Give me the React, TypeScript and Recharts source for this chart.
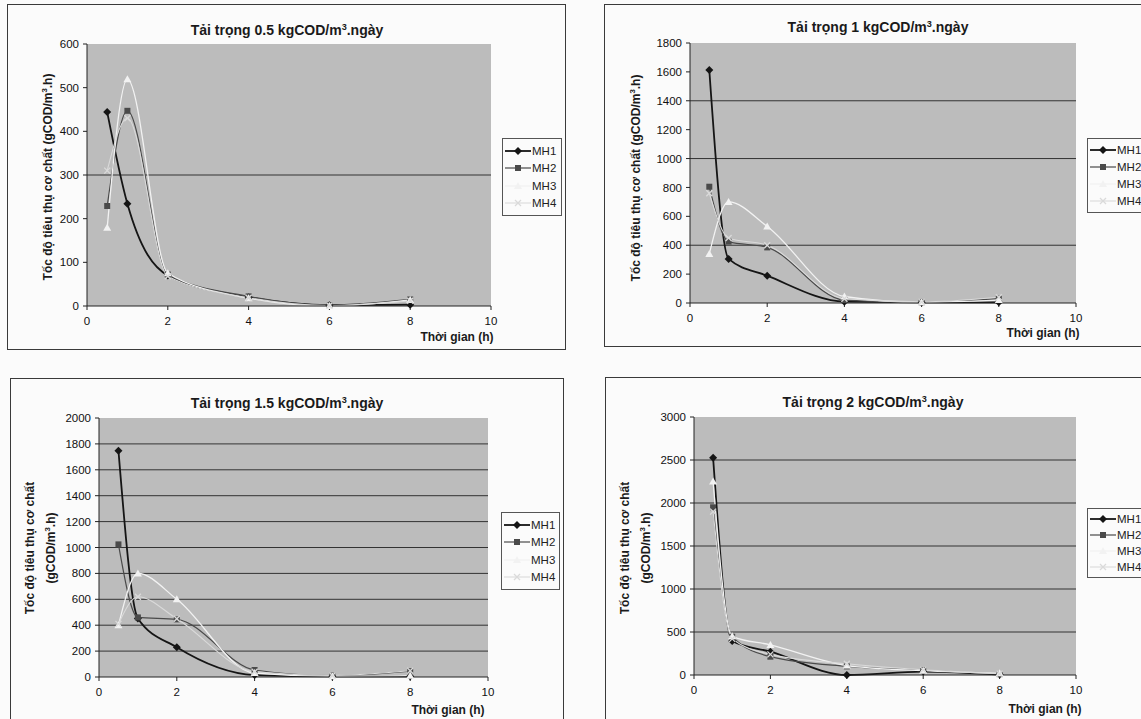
import React from "react";
import { LineChart, Line, XAxis, YAxis, CartesianGrid, ReferenceLine } from "recharts";

// sampling times (h)
const hours = [0.5, 1, 2, 4, 6, 8];
const xTicks = [0, 2, 4, 6, 8, 10];
const seriesNames = ["MH1", "MH2", "MH3", "MH4"];

// Tải trọng 0.5 kgCOD/m3.ngày
const l05MH1 = [444, 234, 70, 20, 2, 3];
const l05MH2 = [229, 447, 72, 22, 2, 15];
const l05MH3 = [179, 519, 75, 18, 0, 14];
const l05MH4 = [310, 430, 68, 19, 1, 12];
const l05Ticks = [0, 100, 200, 300, 400, 500, 600];
const l05Grid = [300];

// Tải trọng 1
const l1MH1 = [1613, 305, 189, 9, 4, 5];
const l1MH2 = [805, 425, 385, 20, 5, 30];
const l1MH3 = [340, 700, 530, 45, 5, 20];
const l1MH4 = [760, 450, 400, 30, 8, 40];
const l1Ticks = [0, 200, 400, 600, 800, 1000, 1200, 1400, 1600, 1800];
const l1Grid = [400, 1000, 1400];

// Tải trọng 1.5
const l15MH1 = [1748, 452, 229, 15, 5, 5];
const l15MH2 = [1024, 460, 445, 54, 10, 45];
const l15MH3 = [400, 800, 600, 30, 5, 10];
const l15MH4 = [410, 620, 450, 40, 12, 48];
const l15Ticks = [0, 200, 400, 600, 800, 1000, 1200, 1400, 1600, 1800, 2000];
const l15Grid = [200, 400, 600, 800, 1000, 1200, 1400, 1600, 1800];

// Tải trọng 2
const l2MH1 = [2527, 395, 271, 0, 40, 5];
const l2MH2 = [1950, 445, 213, 100, 55, 10];
const l2MH3 = [2250, 450, 350, 110, 50, 20];
const l2MH4 = [1900, 420, 240, 130, 60, 15];
const l2Ticks = [0, 500, 1000, 1500, 2000, 2500, 3000];
const l2Grid = [500, 1000, 1500, 2000, 2500];

const FONT = "'Liberation Sans', Arial, sans-serif";

const styles = [
  { color: "#151515", width: 1.8, shape: "diamond" },
  { color: "#4a4a4a", width: 1.2, shape: "square" },
  { color: "#f2f2f2", width: 1.3, shape: "triangle" },
  { color: "#dadada", width: 1.1, shape: "cross" },
];

function Marker({ shape, cx, cy, color }: any) {
  if (shape === "diamond")
    return <polygon points={`${cx},${cy - 4} ${cx + 4},${cy} ${cx},${cy + 4} ${cx - 4},${cy}`} fill={color} />;
  if (shape === "square") return <rect x={cx - 3} y={cy - 3} width={6} height={6} fill={color} />;
  if (shape === "triangle")
    return <polygon points={`${cx},${cy - 4} ${cx + 4},${cy + 3} ${cx - 4},${cy + 3}`} fill={color} />;
  return (
    <g stroke={color} strokeWidth={1.3}>
      <line x1={cx - 3} y1={cy - 3} x2={cx + 3} y2={cy + 3} />
      <line x1={cx - 3} y1={cy + 3} x2={cx + 3} y2={cy - 3} />
    </g>
  );
}

const makeDot = (shape: string, color: string) => (p: any) => {
  if (p.cx == null || p.cy == null) return <g key={p.index} />;
  return (
    <g key={p.index}>
      <Marker shape={shape} cx={p.cx} cy={p.cy} color={color} />
    </g>
  );
};

const Unit = ({ pre, post }: { pre: string; post: string }) => (
  <>
    {pre}
    <sup style={{ fontSize: "0.65em" }}>3</sup>
    {post}
  </>
);

type Props = {
  load: string;
  series: number[][];
  yMax: number;
  yTicks: number[];
  grid: number[];
  twoLine: boolean;
  box: { x: number; y: number; w: number; h: number };
  plot: { x0: number; x1: number; y0: number; y1: number };
  title: [number, number];
  yLab: [number, number];
  xLab: [number, number];
  legend: { x: number; y: number; w: number; h: number };
};

function Panel(p: Props) {
  const YW = 45;
  const XH = 30;
  const data = hours.map((h, i) => ({
    t: h,
    MH1: p.series[0][i],
    MH2: p.series[1][i],
    MH3: p.series[2][i],
    MH4: p.series[3][i],
  }));
  const margin = {
    top: p.plot.y0 - p.box.y,
    left: p.plot.x0 - p.box.x - YW,
    right: p.box.x + p.box.w - p.plot.x1,
    bottom: p.box.y + p.box.h - p.plot.y1 - XH,
  };
  const tick = { fontSize: 11.5, fill: "#111", fontFamily: FONT };
  return (
    <>
      <div
        style={{
          position: "absolute",
          left: p.box.x,
          top: p.box.y,
          width: p.box.w,
          height: p.box.h,
          border: "1px solid #3a3a3a",
          boxSizing: "border-box",
        }}
      />
      <div style={{ position: "absolute", left: p.box.x, top: p.box.y }}>
        <LineChart width={p.box.w} height={p.box.h} data={data} margin={margin}>
          <CartesianGrid fill="#bcbcbc" horizontal={false} vertical={false} />
          {p.grid.map((g) => (
            <ReferenceLine key={g} y={g} stroke="#333" strokeWidth={1} />
          ))}
          <XAxis
            dataKey="t"
            type="number"
            domain={[0, 10]}
            ticks={xTicks}
            height={XH}
            tick={tick}
            tickSize={4}
            tickMargin={7}
            stroke="#222"
          />
          <YAxis
            type="number"
            domain={[0, p.yMax]}
            ticks={p.yTicks}
            width={YW}
            tick={tick}
            tickSize={4}
            tickMargin={4}
            stroke="#222"
          />
          {seriesNames.map((n, i) => (
            <Line
              key={n}
              dataKey={n}
              type="monotone"
              stroke={styles[i].color}
              strokeWidth={styles[i].width}
              dot={makeDot(styles[i].shape, styles[i].color)}
              activeDot={false}
              isAnimationActive={false}
            />
          ))}
        </LineChart>
      </div>
      <div
        style={{
          position: "absolute",
          left: p.title[0],
          top: p.title[1],
          transform: "translate(-50%, -50%)",
          font: `bold 14px ${FONT}`,
          color: "#1a1a1a",
          whiteSpace: "nowrap",
        }}
      >
        <Unit pre={`Tải trọng ${p.load} kgCOD/m`} post=".ngày" />
      </div>
      <div
        style={{
          position: "absolute",
          left: p.yLab[0],
          top: p.yLab[1],
          transform: "translate(-50%, -50%) rotate(-90deg)",
          font: `bold 12px ${FONT}`,
          lineHeight: "18px",
          color: "#1a1a1a",
          whiteSpace: "nowrap",
          textAlign: "center",
        }}
      >
        {p.twoLine ? (
          <>
            Tốc độ tiêu thụ cơ chất
            <br />
            <Unit pre="(gCOD/m" post=".h)" />
          </>
        ) : (
          <Unit pre="Tốc độ tiêu thụ cơ chất (gCOD/m" post=".h)" />
        )}
      </div>
      <div
        style={{
          position: "absolute",
          left: p.xLab[0],
          top: p.xLab[1],
          transform: "translate(-50%, -50%)",
          font: `bold 12px ${FONT}`,
          color: "#1a1a1a",
          whiteSpace: "nowrap",
        }}
      >
        Thời gian (h)
      </div>
      <div
        style={{
          position: "absolute",
          left: p.legend.x,
          top: p.legend.y,
          width: p.legend.w,
          height: p.legend.h,
          border: "1px solid #555",
          boxSizing: "border-box",
          display: "flex",
          flexDirection: "column",
          justifyContent: "space-evenly",
          font: `11.5px ${FONT}`,
          color: "#222",
        }}
      >
        {seriesNames.map((n, i) => (
          <div key={n} style={{ display: "flex", alignItems: "center" }}>
            <svg width={26} height={10} style={{ marginLeft: 2, marginRight: 1 }}>
              <line x1={0} y1={5} x2={26} y2={5} stroke={styles[i].color} strokeWidth={styles[i].width} />
              <Marker shape={styles[i].shape} cx={13} cy={5} color={styles[i].color} />
            </svg>
            <span>{n}</span>
          </div>
        ))}
      </div>
    </>
  );
}

export default function App() {
  return (
    <div
      style={{
        position: "fixed",
        left: 0,
        top: 0,
        width: 1141,
        height: 719,
        background: "#fbfbfb",
        overflow: "hidden",
      }}
    >
      <Panel
        load="0.5"
        series={[l05MH1, l05MH2, l05MH3, l05MH4]}
        yMax={600}
        yTicks={l05Ticks}
        grid={l05Grid}
        twoLine={false}
        box={{ x: 7, y: 4, w: 559, h: 346 }}
        plot={{ x0: 87, x1: 491, y0: 44, y1: 306 }}
        title={[287, 30]}
        yLab={[46, 177]}
        xLab={[457, 337]}
        legend={{ x: 502, y: 138, w: 60, h: 78 }}
      />
      <Panel
        load="1"
        series={[l1MH1, l1MH2, l1MH3, l1MH4]}
        yMax={1800}
        yTicks={l1Ticks}
        grid={l1Grid}
        twoLine={false}
        box={{ x: 604, y: 4, w: 560, h: 343 }}
        plot={{ x0: 690, x1: 1076, y0: 43, y1: 303 }}
        title={[878, 27]}
        yLab={[634, 178]}
        xLab={[1043, 333]}
        legend={{ x: 1087, y: 138, w: 60, h: 75 }}
      />
      <Panel
        load="1.5"
        series={[l15MH1, l15MH2, l15MH3, l15MH4]}
        yMax={2000}
        yTicks={l15Ticks}
        grid={l15Grid}
        twoLine={true}
        box={{ x: 10, y: 378, w: 554, h: 352 }}
        plot={{ x0: 99, x1: 488, y0: 418, y1: 677 }}
        title={[287, 403]}
        yLab={[40, 548]}
        xLab={[448, 710]}
        legend={{ x: 501, y: 512, w: 59, h: 78 }}
      />
      <Panel
        load="2"
        series={[l2MH1, l2MH2, l2MH3, l2MH4]}
        yMax={3000}
        yTicks={l2Ticks}
        grid={l2Grid}
        twoLine={true}
        box={{ x: 605, y: 377, w: 560, h: 353 }}
        plot={{ x0: 694, x1: 1076, y0: 417, y1: 675 }}
        title={[873, 402]}
        yLab={[635, 548]}
        xLab={[1045, 709]}
        legend={{ x: 1087, y: 508, w: 60, h: 70 }}
      />
    </div>
  );
}
